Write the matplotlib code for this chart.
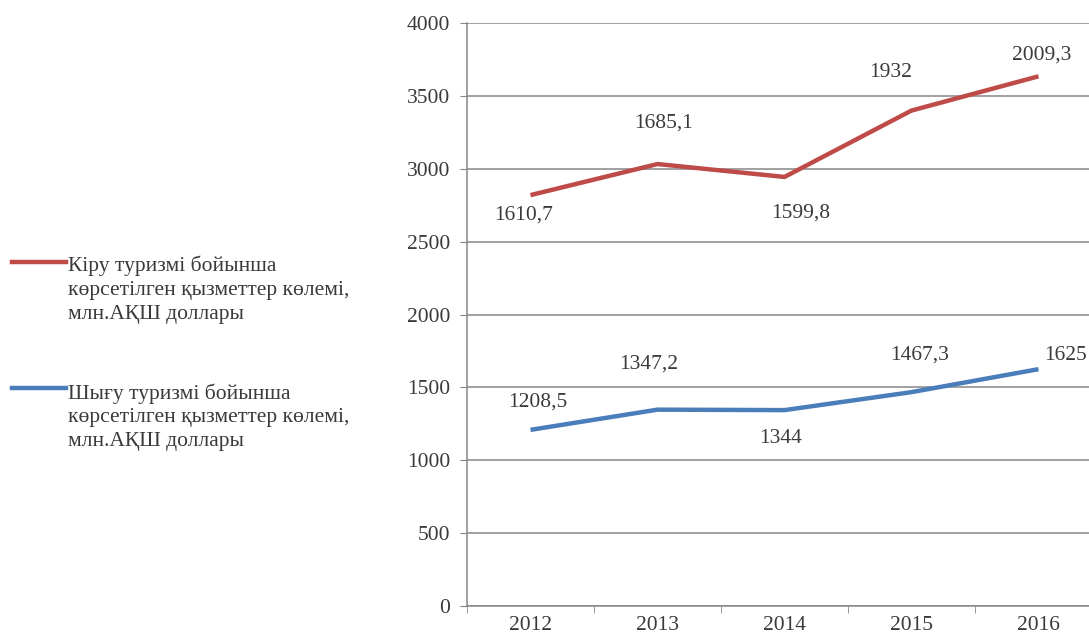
import numpy as np
import matplotlib
matplotlib.use("Agg")
import matplotlib.pyplot as plt
from matplotlib.lines import Line2D

plt.rcParams['font.family'] = ['Liberation Serif', 'DejaVu Serif']

# ---------------- data ----------------
years = ["2012", "2013", "2014", "2015", "2016"]
outbound = np.array([1208.5, 1347.2, 1344, 1467.3, 1625])     # Шығу туризмі
inbound = np.array([1610.7, 1685.1, 1599.8, 1932, 2009.3])     # Кіру туризмі
y_ticks = [0, 500, 1000, 1500, 2000, 2500, 3000, 3500, 4000]

label_in = "Кіру туризмі бойынша\nкөрсетілген қызметтер көлемі,\nмлн.АҚШ доллары"
label_out = "Шығу туризмі бойынша\nкөрсетілген қызметтер көлемі,\nмлн.АҚШ доллары"

RED = "#BE4B48"
BLUE = "#4A7EBB"
GRID = "#868686"
TXT = "#3a3a3a"
FS = 15.5

# label offsets (pixels) relative to the data point
off_in = [(-7, -20), (6, 41), (16, -36), (-21, 38), (3, 21)]
off_out = [(7, 28), (-9, 46), (-4, -28), (8, 37), (27, 14)]


def fmt(v):
    if float(v).is_integer():
        return f"{int(v)}"
    return f"{v:.1f}".replace(".", ",")


fig = plt.figure(figsize=(10.89, 6.40), dpi=100)
# axes runs off the right edge like the original screenshot
ax = fig.add_axes([467 / 1089, 34 / 640, 635 / 1089, 583 / 640])

x = np.arange(len(years))
stacked = outbound + inbound  # stacked line chart
ax.plot(x, outbound, color=BLUE, lw=3.2, solid_capstyle="butt", zorder=3)
ax.plot(x, stacked, color=RED, lw=3.2, solid_capstyle="butt", zorder=3)

for i in range(len(years)):
    ax.annotate(fmt(inbound[i]), (x[i], stacked[i]), xytext=off_in[i],
                textcoords="offset pixels", ha="center", va="center",
                fontsize=FS, color=TXT)
    ax.annotate(fmt(outbound[i]), (x[i], outbound[i]), xytext=off_out[i],
                textcoords="offset pixels", ha="center", va="center",
                fontsize=FS, color=TXT)

ax.set_xlim(-0.5, len(years) - 0.5)
ax.set_ylim(0, 4000)
ax.set_yticks(y_ticks)
ax.set_yticklabels([str(t) for t in y_ticks])
ax.set_xticks(x)
ax.set_xticklabels(years)
ax.set_xticks(np.arange(-0.5, len(years), 1.0), minor=True)

ax.yaxis.grid(True, color=GRID, lw=1.1)
ax.set_axisbelow(True)
for s in ["top", "right"]:
    ax.spines[s].set_visible(False)
for s in ["left", "bottom"]:
    ax.spines[s].set_color(GRID)
    ax.spines[s].set_linewidth(1.1)

ax.tick_params(axis="y", length=5, color=GRID, pad=7, labelsize=FS, labelcolor=TXT)
ax.tick_params(axis="x", which="major", length=0, pad=7.5, labelsize=FS, labelcolor=TXT)
ax.tick_params(axis="x", which="minor", length=5, color=GRID)

# legend on the left, drawn by hand like the Excel layout
H = 640.0
W = 1089.0
fig.add_artist(Line2D([12 / W, 66 / W], [1 - 262 / H, 1 - 262 / H], color=RED, lw=3.2))
fig.text(68 / W, 1 - 256 / H, label_in, ha="left", va="top", fontsize=FS,
         color=TXT, linespacing=1.33)
fig.add_artist(Line2D([12 / W, 66 / W], [1 - 388 / H, 1 - 388 / H], color=BLUE, lw=3.2))
fig.text(68 / W, 1 - 383 / H, label_out, ha="left", va="top", fontsize=FS,
         color=TXT, linespacing=1.33)

fig.savefig("out.png", dpi=100)
